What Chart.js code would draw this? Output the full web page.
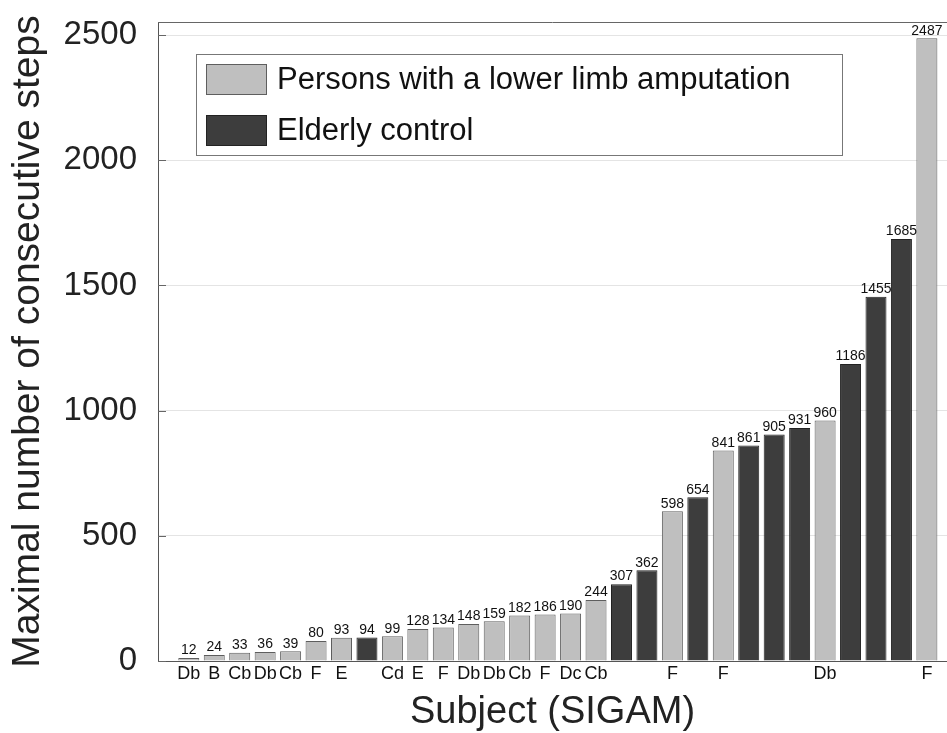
<!DOCTYPE html>
<html>
<head>
<meta charset="utf-8">
<script src="https://cdn.jsdelivr.net/npm/chart.js@4"></script>
<style>
  body { margin: 0; background: #fff; }
  #wrap { width: 947px; height: 733px; }
</style>
</head>
<body>
<div id="wrap"><canvas id="steps-chart"></canvas></div>
<script>
// maximal number of consecutive steps per subject, sorted ascending
const stepValues = [12, 24, 33, 36, 39, 80, 93, 94, 99, 128, 134, 148, 159, 182, 186, 190, 244,
    307, 362, 598, 654, 841, 861, 905, 931, 960, 1186, 1455, 1685, 2487];
// 'A' = person with a lower limb amputation, 'C' = elderly control
const groups = ['A', 'A', 'A', 'A', 'A', 'A', 'A', 'C', 'A', 'A', 'A', 'A', 'A', 'A', 'A', 'A', 'A',
    'C', 'C', 'A', 'C', 'A', 'C', 'C', 'C', 'A', 'C', 'C', 'C', 'A'];
// SIGAM class shown under each bar
const sigamLabels = ['Db', 'B', 'Cb', 'Db', 'Cb', 'F', 'E', '', 'Cd', 'E', 'F', 'Db', 'Db', 'Cb', 'F', 'Dc', 'Cb',
    '', '', 'F', '', 'F', '', '', '', 'Db', '', '', '', 'F'];
const yTicks = [0, 500, 1000, 1500, 2000, 2500];
const seriesNames = ['Persons with a lower limb amputation', 'Elderly control'];

const FONT = '"Liberation Sans", Arial, Helvetica, sans-serif';

function pointsFor(group) {
    let pts = [];
    stepValues.forEach((v, i) => {
        if (groups[i] === group) pts.push({ x: i + 1, y: v });
    });
    return pts;
}

// value printed on top of every bar
const valueLabels = {
    id: 'valueLabels',
    afterDatasetsDraw(chart) {
        const c = chart.ctx;
        c.save();
        c.font = '14px ' + FONT;
        c.fillStyle = '#111';
        c.textAlign = 'center';
        c.textBaseline = 'bottom';
        chart.data.datasets.forEach((ds, di) => {
            chart.getDatasetMeta(di).data.forEach((bar, j) => {
                c.fillText(String(ds.data[j].y), bar.x, bar.y - 0.5);
            });
        });
        c.restore();
    }
};

// frame line on top, inward tick marks and the boxed legend inside the plot
const frameAndLegend = {
    id: 'frameAndLegend',
    afterDraw(chart) {
        const c = chart.ctx;
        const area = chart.chartArea;
        const y = chart.scales.y;
        c.save();
        c.strokeStyle = '#666';
        c.lineWidth = 1;
        c.beginPath();
        c.moveTo(area.left, area.top + 0.5);
        c.lineTo(area.right, area.top + 0.5);
        yTicks.forEach((t) => {
            const py = Math.round(y.getPixelForValue(t)) + 0.5;
            c.moveTo(area.left, py);
            c.lineTo(area.left + 8, py);
        });
        c.stroke();

        // legend box
        const bx = 196, by = 54, bw = 646, bh = 101;
        c.fillStyle = '#fff';
        c.fillRect(bx, by, bw, bh);
        c.strokeStyle = '#777';
        c.strokeRect(bx + 0.5, by + 0.5, bw, bh);
        c.font = '31px ' + FONT;
        c.textBaseline = 'middle';
        c.textAlign = 'left';
        chart.data.datasets.forEach((ds, i) => {
            const sy = 64 + i * 51;
            c.fillStyle = ds.backgroundColor;
            c.fillRect(206, sy, 61, 31);
            c.strokeStyle = ds.borderColor;
            c.strokeRect(206.5, sy + 0.5, 60, 30);
            c.fillStyle = '#111';
            c.fillText(ds.label, 277, sy + 16);
        });
        c.restore();
    }
};

var ctx = document.getElementById('steps-chart').getContext('2d');
var stepsChart = new Chart(ctx, {
    type: 'bar',
    data: {
        datasets: [
            {
                label: seriesNames[0],
                data: pointsFor('A'),
                backgroundColor: '#bfbfbf',
                borderColor: '#5e5e5e',
                borderWidth: 1,
                grouped: false,
                barPercentage: 0.825,
                categoryPercentage: 1
            },
            {
                label: seriesNames[1],
                data: pointsFor('C'),
                backgroundColor: '#3d3d3d',
                borderColor: '#222222',
                borderWidth: 1,
                grouped: false,
                barPercentage: 0.825,
                categoryPercentage: 1
            }
        ]
    },
    plugins: [valueLabels, frameAndLegend],
    options: {
        responsive: true,
        maintainAspectRatio: false,
        animation: false,
        layout: { padding: { top: 22, left: 0, right: 0, bottom: 0 } },
        plugins: {
            legend: { display: false },
            tooltip: { enabled: false }
        },
        scales: {
            x: {
                type: 'linear',
                min: -0.21,
                max: 30.79,
                offset: false,
                grid: { display: false, offset: false, drawTicks: false },
                border: { display: true, color: '#555', width: 1 },
                afterBuildTicks: (scale) => {
                    scale.ticks = sigamLabels.map((s, i) => ({ value: i + 1 }));
                },
                afterFit: (scale) => { scale.height = 72; },
                ticks: {
                    autoSkip: false,
                    maxRotation: 0,
                    minRotation: 0,
                    padding: 2,
                    color: '#111',
                    font: { family: FONT, size: 18 },
                    callback: (value, index) => sigamLabels[index]
                },
                title: {
                    display: true,
                    text: 'Subject (SIGAM)',
                    color: '#222',
                    font: { family: FONT, size: 38 },
                    padding: { top: 0, bottom: -2 }
                }
            },
            y: {
                min: 0,
                max: 2552,
                grid: { color: '#e4e4e4', drawTicks: true, tickLength: 21, tickColor: 'rgba(0,0,0,0)' },
                border: { display: true, color: '#555', width: 1 },
                afterBuildTicks: (scale) => {
                    scale.ticks = yTicks.map((v) => ({ value: v }));
                },
                afterFit: (scale) => { scale.width = 158; },
                ticks: {
                    padding: 0,
                    color: '#222',
                    font: { family: FONT, size: 33 },
                    callback: (value) => String(value)
                },
                title: {
                    display: true,
                    text: 'Maximal number of consecutive steps',
                    color: '#222',
                    font: { family: FONT, size: 39 },
                    padding: { top: 5, bottom: 0 }
                }
            }
        }
    }
});
</script>
</body>
</html>
